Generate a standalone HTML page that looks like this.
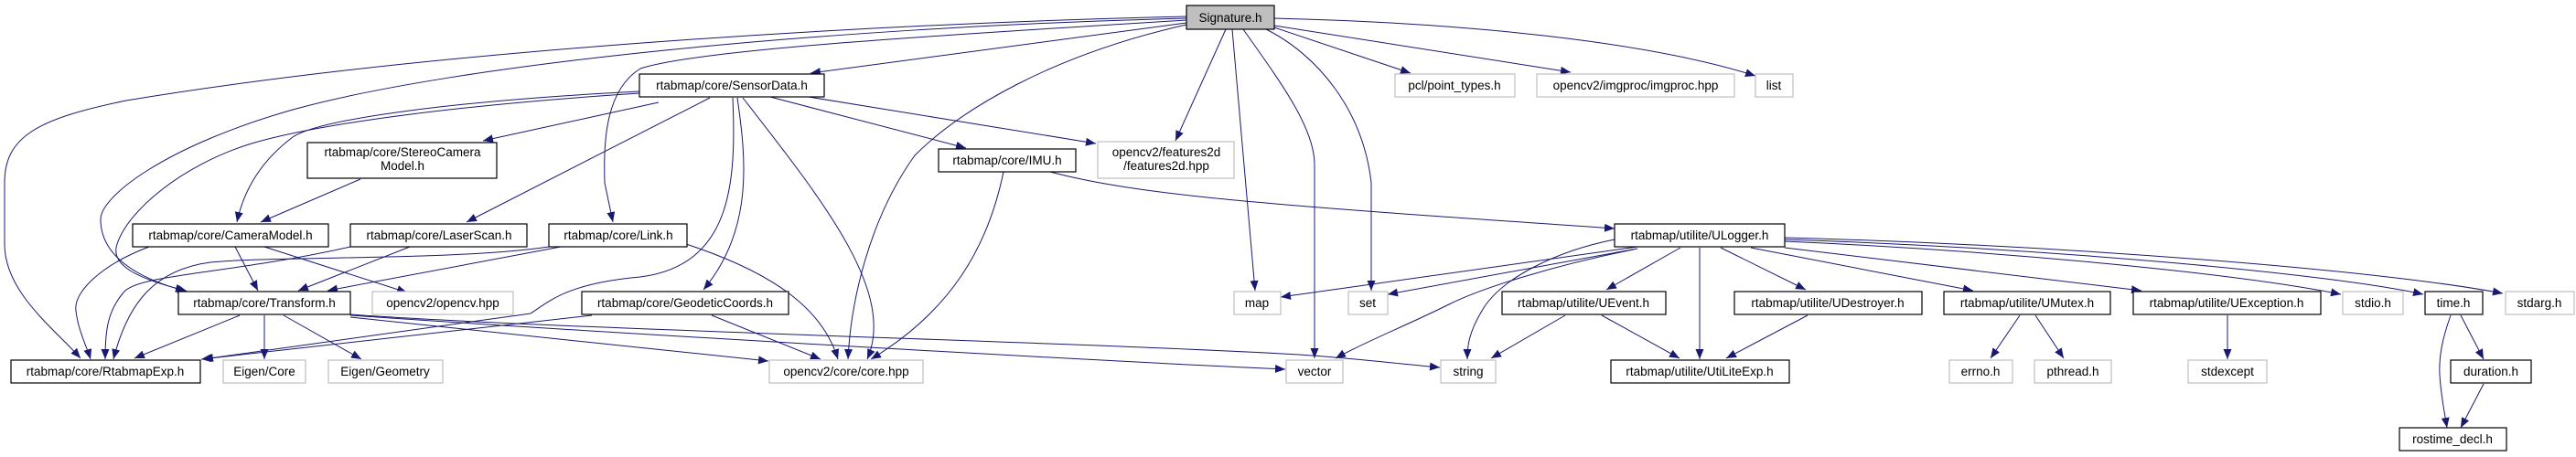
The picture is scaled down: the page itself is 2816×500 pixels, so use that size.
<!DOCTYPE html>
<html><head><meta charset="utf-8"><style>
html,body{margin:0;padding:0;background:#fff;}
svg{display:block}
text{font-family:"Liberation Sans",sans-serif;font-size:13.5px;fill:#000;text-anchor:middle}
.n{fill:#fff;stroke:#000;stroke-width:1.2}
.g{fill:#fff;stroke:#bfbfbf;stroke-width:1.2}
.s{fill:#bfbfbf;stroke:#000;stroke-width:1.2}
path.e{fill:none;stroke:#191970;stroke-width:1}
</style></head><body>
<svg width="2816" height="500" viewBox="0 0 2816 500" xmlns="http://www.w3.org/2000/svg">
<defs><marker id="a" markerUnits="userSpaceOnUse" markerWidth="12" markerHeight="10" refX="11" refY="4.5" orient="auto"><path d="M0,0 L11,4.5 L0,9 Z" fill="#191970"/></marker></defs>
<g marker-end="url(#a)">
<!-- Signature -->
<path class="e" d="M1297,18 C1000,25 500,50 138,110 C40,130 5,150 5,200 L5,267 C5,320 60,360 88,392"/>
<path class="e" d="M1297,20 C900,30 500,70 320,120 C180,160 110,215 110,240 C110,280 150,305 205,319"/>
<path class="e" d="M1297,25 L886,80"/>
<path class="e" d="M1297,27 C1150,60 1050,120 1000,170 C950,240 930,330 927,393"/>
<path class="e" d="M1340,32 L1285,154"/>
<path class="e" d="M1347,32 L1372,318"/>
<path class="e" d="M1359,32 C1400,90 1437,140 1437,180 L1437,392"/>
<path class="e" d="M1384,32 C1440,60 1490,120 1499,200 L1499,318"/>
<path class="e" d="M1393,30 L1542,80"/>
<path class="e" d="M1393,28 L1717,79"/>
<path class="e" d="M1393,20 C1600,25 1800,45 1919,83"/>
<path class="e" d="M1297,22 C1000,40 760,55 700,75 C660,100 660,160 661,200 L670,243"/>
<!-- SensorData -->
<path class="e" d="M720,112 L528,154"/>
<path class="e" d="M699,100 C500,110 350,130 320,150 C280,180 265,215 259,243"/>
<path class="e" d="M699,102 C500,115 350,135 275,157 C200,180 140,230 128,267 C120,290 150,305 203,318"/>
<path class="e" d="M776,107 L510,243"/>
<path class="e" d="M801,107 C805,200 800,290 700,303 C620,310 600,330 580,343 L222,393"/>
<path class="e" d="M806,107 C815,170 825,250 769,317"/>
<path class="e" d="M812,107 C900,220 980,320 948,393"/>
<path class="e" d="M842,106 L1056,162"/>
<path class="e" d="M884,106 L1198,157"/>
<!-- Stereo -->
<path class="e" d="M394,196 L285,243"/>
<!-- CameraModel -->
<path class="e" d="M163,270 C110,290 80,320 83,340 C85,360 95,380 99,393"/>
<path class="e" d="M257,270 L282,318"/>
<path class="e" d="M289,270 L445,320"/>
<!-- LaserScan -->
<path class="e" d="M383,270 C250,300 150,300 135,320 C118,340 115,360 115,393"/>
<path class="e" d="M448,270 L326,318"/>
<!-- Link -->
<path class="e" d="M600,270 C500,285 300,280 230,287 C170,295 140,330 124,393"/>
<path class="e" d="M613,270 L358,318"/>
<path class="e" d="M750,267 C850,300 900,340 916,393"/>
<!-- Transform -->
<path class="e" d="M262,345 L147,392"/>
<path class="e" d="M289,345 L289,393"/>
<path class="e" d="M310,345 L395,393"/>
<path class="e" d="M383,347 L840,395"/>
<path class="e" d="M383,345 C600,360 1100,390 1405,404"/>
<path class="e" d="M383,344 C600,360 1200,375 1420,388 C1480,392 1530,398 1574,402"/>
<!-- Geodetic -->
<path class="e" d="M647,345 L220,393"/>
<path class="e" d="M778,345 L897,393"/>
<!-- IMU -->
<path class="e" d="M1097,188 C1080,270 1040,340 952,393"/>
<path class="e" d="M1148,188 C1250,215 1400,225 1765,250"/>
<!-- ULogger -->
<path class="e" d="M1790,270 L1400,325"/>
<path class="e" d="M1790,272 L1517,322"/>
<path class="e" d="M1786,273 C1700,290 1620,315 1584,333 C1540,355 1490,375 1460,392"/>
<path class="e" d="M1765,262 C1700,275 1640,305 1620,340 C1605,365 1604,380 1604,393"/>
<path class="e" d="M1837,271 L1756,317"/>
<path class="e" d="M1858,271 L1858,393"/>
<path class="e" d="M1881,271 L1974,317"/>
<path class="e" d="M1914,271 L2157,318"/>
<path class="e" d="M1951,271 L2341,318"/>
<path class="e" d="M1951,264 C2200,275 2450,300 2559,322"/>
<path class="e" d="M1951,262 C2250,272 2550,300 2649,322"/>
<path class="e" d="M1951,260 C2250,268 2600,295 2736,321"/>
<!-- lower -->
<path class="e" d="M1711,345 L1630,392"/>
<path class="e" d="M1751,345 L1836,392"/>
<path class="e" d="M1976,345 L1887,392"/>
<path class="e" d="M2208,345 L2176,392"/>
<path class="e" d="M2225,345 L2256,392"/>
<path class="e" d="M2435,345 L2435,393"/>
<path class="e" d="M2679,345 C2670,370 2666,390 2667,410 C2668,430 2672,450 2675,468"/>
<path class="e" d="M2690,345 L2715,393"/>
<path class="e" d="M2715,420 L2690,468"/>
</g>
<!-- nodes -->
<rect class="s" x="1297" y="6" width="96" height="26"/><text x="1345" y="24">Signature.h</text>
<rect class="n" x="699" y="81" width="202" height="25"/><text x="800" y="98">rtabmap/core/SensorData.h</text>
<rect class="g" x="1525" y="81" width="131" height="25"/><text x="1590" y="98">pcl/point_types.h</text>
<rect class="g" x="1680" y="81" width="216" height="25"/><text x="1788" y="98">opencv2/imgproc/imgproc.hpp</text>
<rect class="g" x="1919" y="81" width="41" height="25"/><text x="1939" y="98">list</text>
<rect class="n" x="336" y="156" width="207" height="39"/><text x="440" y="171">rtabmap/core/StereoCamera</text><text x="440" y="186">Model.h</text>
<rect class="n" x="1026" y="163" width="150" height="25"/><text x="1101" y="180">rtabmap/core/IMU.h</text>
<rect class="g" x="1200" y="155" width="149" height="40"/><text x="1275" y="171">opencv2/features2d</text><text x="1275" y="186">/features2d.hpp</text>
<rect class="n" x="145" y="245" width="214" height="25"/><text x="252" y="262">rtabmap/core/CameraModel.h</text>
<rect class="n" x="383" y="245" width="193" height="25"/><text x="480" y="262">rtabmap/core/LaserScan.h</text>
<rect class="n" x="600" y="245" width="151" height="25"/><text x="676" y="262">rtabmap/core/Link.h</text>
<rect class="n" x="1765" y="245" width="186" height="25"/><text x="1858" y="262">rtabmap/utilite/ULogger.h</text>
<rect class="n" x="195" y="319" width="188" height="25"/><text x="289" y="336">rtabmap/core/Transform.h</text>
<rect class="g" x="407" y="319" width="154" height="25"/><text x="484" y="336">opencv2/opencv.hpp</text>
<rect class="n" x="636" y="319" width="226" height="25"/><text x="749" y="336">rtabmap/core/GeodeticCoords.h</text>
<rect class="g" x="1349" y="319" width="51" height="25"/><text x="1374" y="336">map</text>
<rect class="g" x="1474" y="319" width="43" height="25"/><text x="1495" y="336">set</text>
<rect class="n" x="1642" y="319" width="179" height="25"/><text x="1731" y="336">rtabmap/utilite/UEvent.h</text>
<rect class="n" x="1896" y="319" width="205" height="25"/><text x="1998" y="336">rtabmap/utilite/UDestroyer.h</text>
<rect class="n" x="2125" y="319" width="182" height="25"/><text x="2216" y="336">rtabmap/utilite/UMutex.h</text>
<rect class="n" x="2332" y="319" width="205" height="25"/><text x="2434" y="336">rtabmap/utilite/UException.h</text>
<rect class="g" x="2561" y="319" width="66" height="25"/><text x="2594" y="336">stdio.h</text>
<rect class="n" x="2651" y="319" width="63" height="25"/><text x="2682" y="336">time.h</text>
<rect class="g" x="2739" y="319" width="75" height="25"/><text x="2776" y="336">stdarg.h</text>
<rect class="n" x="12" y="394" width="207" height="25"/><text x="115" y="411">rtabmap/core/RtabmapExp.h</text>
<rect class="g" x="244" y="394" width="90" height="25"/><text x="289" y="411">Eigen/Core</text>
<rect class="g" x="359" y="394" width="125" height="25"/><text x="421" y="411">Eigen/Geometry</text>
<rect class="g" x="841" y="394" width="168" height="25"/><text x="925" y="411">opencv2/core/core.hpp</text>
<rect class="g" x="1406" y="394" width="62" height="25"/><text x="1437" y="411">vector</text>
<rect class="g" x="1575" y="394" width="60" height="25"/><text x="1605" y="411">string</text>
<rect class="n" x="1761" y="394" width="195" height="25"/><text x="1858" y="411">rtabmap/utilite/UtiLiteExp.h</text>
<rect class="g" x="2131" y="394" width="69" height="25"/><text x="2165" y="411">errno.h</text>
<rect class="g" x="2224" y="394" width="84" height="25"/><text x="2266" y="411">pthread.h</text>
<rect class="g" x="2392" y="394" width="86" height="25"/><text x="2435" y="411">stdexcept</text>
<rect class="n" x="2679" y="394" width="88" height="25"/><text x="2723" y="411">duration.h</text>
<rect class="n" x="2623" y="468" width="117" height="25"/><text x="2681" y="485">rostime_decl.h</text>
</svg>
</body></html>
